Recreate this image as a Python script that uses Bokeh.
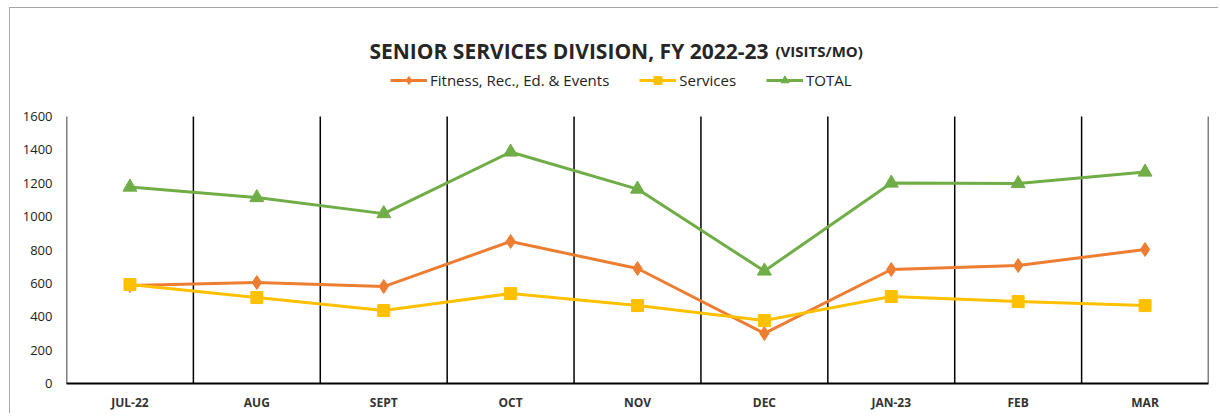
from bokeh.plotting import figure
from bokeh.models import FactorRange, Range1d, Legend, LegendItem, Label, FixedTicker
from bokeh.embed import file_html
from bokeh.resources import INLINE

months = ["JUL-22", "AUG", "SEPT", "OCT", "NOV", "DEC", "JAN-23", "FEB", "MAR"]
fitness = [587, 605, 581, 851, 689, 300, 683, 707, 803]
services = [593, 515, 437, 539, 467, 377, 521, 491, 467]
total = [1177, 1114, 1018, 1387, 1165, 674, 1201, 1198, 1267]
y_ticks = [0, 200, 400, 600, 800, 1000, 1200, 1400, 1600]

ORANGE = "#ED7D31"
YELLOW = "#FFC000"
GREEN = "#70AD47"
FONT = "Open Sans"

# layout (pixels)
PLOT_H = 267            # height of the 0..1600 value area
FRAME_H = 371           # frame includes head room for title and legend
y_end = y_ticks[-1] * FRAME_H / PLOT_H

p = figure(frame_width=1142, frame_height=FRAME_H,
           x_range=FactorRange(*months), y_range=Range1d(0, y_end),
           output_backend="svg", toolbar_location=None,
           min_border_left=56, min_border_right=10, min_border_top=4, min_border_bottom=30)
p.margin = (7, 0, 0, 9)
p.outline_line_color = None
p.xgrid.visible = False
p.ygrid.visible = False
p.styles = {"border-top": "1px solid #a6a6a6", "border-left": "1px solid #a6a6a6"}

# category separators
boundaries = list(range(len(months) + 1))
p.segment(x0=boundaries, y0=[y_ticks[0]] * len(boundaries), x1=boundaries,
          y1=[y_ticks[-1]] * len(boundaries), line_color="black", line_width=1.5)

r_fit_l = p.line(months, fitness, line_color=ORANGE, line_width=3)
r_fit_m = p.scatter(months, fitness, marker="diamond", size=14, fill_color=ORANGE, line_color=ORANGE)
r_ser_l = p.line(months, services, line_color=YELLOW, line_width=3)
r_ser_m = p.scatter(months, services, marker="square", size=12, fill_color=YELLOW, line_color=YELLOW)
r_tot_l = p.line(months, total, line_color=GREEN, line_width=3)
r_tot_m = p.scatter(months, total, marker="triangle", size=14, fill_color=GREEN, line_color=GREEN)

# axes
p.yaxis.ticker = FixedTicker(ticks=y_ticks)
p.yaxis.axis_line_color = None
p.yaxis.major_tick_line_color = None
p.yaxis.minor_tick_line_color = None
p.yaxis.major_tick_out = 0
p.yaxis.major_tick_in = 0
p.yaxis.major_label_standoff = 14
p.yaxis.major_label_text_font = FONT
p.yaxis.major_label_text_font_size = "13px"
p.yaxis.major_label_text_color = "#222222"

p.xaxis.axis_line_color = "black"
p.xaxis.axis_line_width = 2
p.xaxis.major_tick_line_color = None
p.xaxis.minor_tick_line_color = None
p.xaxis.major_tick_out = 0
p.xaxis.major_tick_in = 0
p.xaxis.major_label_standoff = 10
p.xaxis.major_label_text_font = FONT
p.xaxis.major_label_text_font_size = "12px"
p.xaxis.major_label_text_font_style = "bold"
p.xaxis.major_label_text_color = "#333333"

# title as labels (screen units relative to frame bottom-left)
t1 = Label(x=702, y=333, x_units="screen", y_units="screen",
           text="SENIOR SERVICES DIVISION, FY 2022-23", text_align="right",
           text_baseline="alphabetic", text_font=FONT, text_font_size="21px",
           text_font_style="bold", text_color="#262626")
t2 = Label(x=709, y=333, x_units="screen", y_units="screen",
           text="(VISITS/MO)", text_align="left",
           text_baseline="alphabetic", text_font=FONT, text_font_size="15px",
           text_font_style="bold", text_color="#262626")
p.add_layout(t1)
p.add_layout(t2)

legend = Legend(items=[
    LegendItem(label="Fitness, Rec., Ed. & Events", renderers=[r_fit_l, r_fit_m]),
    LegendItem(label="Services", renderers=[r_ser_l, r_ser_m]),
    LegendItem(label="TOTAL", renderers=[r_tot_l, r_tot_m]),
], orientation="horizontal", location=(324, 293))
legend.padding = 0
legend.margin = 0
legend.spacing = 30
legend.glyph_width = 37
legend.glyph_height = 20
legend.label_standoff = 3
legend.label_text_font = FONT
legend.label_text_font_size = "15px"
legend.label_text_color = "#222222"
legend.border_line_color = None
legend.background_fill_alpha = 0
p.add_layout(legend, "center")

open("out.html", "w").write(file_html(p, INLINE))
